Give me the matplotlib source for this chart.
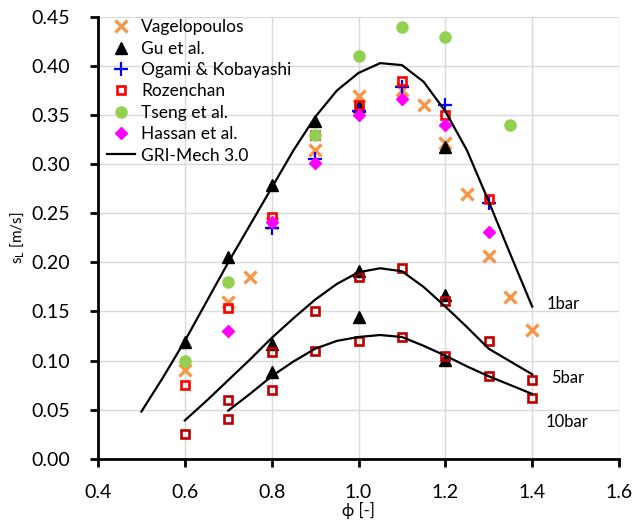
import matplotlib

matplotlib.use("Agg")
import matplotlib.pyplot as plt

plt.rcParams["font.family"] = ["Lato", "DejaVu Sans"]
plt.rcParams["mathtext.default"] = "regular"

# measured flame speeds at 1 bar
vagel_phi = [0.6, 0.7, 0.75, 0.8, 0.9, 1.0, 1.1, 1.15, 1.2, 1.25, 1.3, 1.35, 1.4]
vagel_sl = [0.09, 0.16, 0.185, 0.24, 0.315, 0.37, 0.376, 0.36, 0.322, 0.27, 0.206, 0.165, 0.131]

gu_phi = [0.6, 0.7, 0.8, 0.9, 1.0, 1.2]
gu_sl = [0.119, 0.205, 0.279, 0.344, 0.359, 0.318]
gu5_phi = [0.8, 1.0, 1.2]
gu5_sl = [0.117, 0.191, 0.167]
gu10_phi = [0.8, 1.0, 1.2]
gu10_sl = [0.088, 0.144, 0.101]

ogami_phi = [0.8, 0.9, 1.0, 1.1, 1.2, 1.3]
ogami_sl = [0.235, 0.305, 0.354, 0.379, 0.36, 0.261]

roz_phi = [0.6, 0.7, 0.8, 0.9, 1.0, 1.1, 1.2, 1.3]
roz_sl = [0.075, 0.154, 0.246, 0.33, 0.36, 0.385, 0.35, 0.265]
roz5_phi = [0.6, 0.7, 0.8, 0.9, 1.0, 1.1, 1.2, 1.3, 1.4]
roz5_sl = [0.025, 0.06, 0.109, 0.15, 0.185, 0.194, 0.161, 0.12, 0.08]
roz10_phi = [0.7, 0.8, 0.9, 1.0, 1.1, 1.2, 1.3, 1.4]
roz10_sl = [0.04, 0.07, 0.11, 0.12, 0.124, 0.105, 0.084, 0.062]

tseng_phi = [0.6, 0.7, 0.9, 1.0, 1.1, 1.2, 1.35]
tseng_sl = [0.10, 0.18, 0.33, 0.41, 0.44, 0.43, 0.34]

hassan_phi = [0.7, 0.8, 0.9, 1.0, 1.1, 1.2, 1.3]
hassan_sl = [0.13, 0.241, 0.301, 0.35, 0.366, 0.34, 0.231]

# GRI-Mech 3.0 predictions
gri1_phi = [0.5, 0.55, 0.6, 0.65, 0.7, 0.75, 0.8, 0.85, 0.9, 0.95, 1.0,
            1.05, 1.1, 1.15, 1.2, 1.25, 1.3, 1.35, 1.4]
gri1_sl = [0.048, 0.083, 0.12, 0.16, 0.2, 0.238, 0.276, 0.314, 0.348, 0.375, 0.393,
           0.403, 0.401, 0.384, 0.354, 0.314, 0.262, 0.208, 0.155]
gri5_phi = [0.6, 0.65, 0.7, 0.75, 0.8, 0.85, 0.9, 0.95, 1.0, 1.05,
            1.1, 1.15, 1.2, 1.25, 1.3, 1.35, 1.4]
gri5_sl = [0.039, 0.059, 0.08, 0.101, 0.123, 0.143, 0.162, 0.178, 0.19, 0.194,
           0.191, 0.175, 0.155, 0.134, 0.112, 0.099, 0.086]
gri10_phi = [0.7, 0.75, 0.8, 0.85, 0.9, 0.95, 1.0, 1.05, 1.1, 1.15,
             1.2, 1.25, 1.3, 1.35, 1.4]
gri10_sl = [0.049, 0.066, 0.084, 0.099, 0.112, 0.12, 0.124, 0.126, 0.124, 0.115,
            0.105, 0.094, 0.084, 0.075, 0.066]

pressure_labels = ["1bar", "5bar", "10bar"]
label_pos = [(1.433, 0.158), (1.444, 0.082), (1.431, 0.037)]

orange = "#F79646"
green = "#92D050"

fig = plt.figure(figsize=(6.38, 5.24), dpi=100)
ax = fig.add_axes([98 / 638, 65.3 / 524, 521 / 638, 441.7 / 524])

ax.plot(vagel_phi, vagel_sl, ls="none", marker="x", ms=8.5, mew=2.4,
        color=orange, label="Vagelopoulos")
ax.plot(gu_phi, gu_sl, ls="none", marker="^", ms=8.5, color="black", label="Gu et al.")
for phi, sl in ((gu5_phi, gu5_sl), (gu10_phi, gu10_sl)):
    ax.plot(phi, sl, ls="none", marker="^", ms=8.5, color="black")
ax.plot(ogami_phi, ogami_sl, ls="none", marker="+", ms=10, mew=1.6,
        color="#0000FF", label="Ogami & Kobayashi")
ax.plot(roz_phi, roz_sl, ls="none", marker="s", ms=5.6, mew=1.9, mfc="none",
        mec="#FF0000", label="Rozenchan")
for phi, sl in ((roz5_phi, roz5_sl), (roz10_phi, roz10_sl)):
    ax.plot(phi, sl, ls="none", marker="s", ms=5.6, mew=1.9, mfc="none", mec="#C00000")
ax.plot(tseng_phi, tseng_sl, ls="none", marker="o", ms=8, color=green,
        label="Tseng et al.")
ax.plot(hassan_phi, hassan_sl, ls="none", marker="D", ms=6.5, color="#FF00FF",
        label="Hassan et al.")
ax.plot(gri1_phi, gri1_sl, color="black", lw=1.6, label="GRI-Mech 3.0")
ax.plot(gri5_phi, gri5_sl, color="black", lw=1.6)
ax.plot(gri10_phi, gri10_sl, color="black", lw=1.6)

for text, (x, y) in zip(pressure_labels, label_pos):
    ax.text(x, y, text, fontsize=12, va="center", ha="left")

ax.set_xlim(0.4, 1.6)
ax.set_ylim(0.0, 0.45)
ax.set_xticks([0.4, 0.6, 0.8, 1.0, 1.2, 1.4, 1.6])
ax.set_xticklabels(["0.4", "0.6", "0.8", "1.0", "1.2", "1.4", "1.6"])
ax.set_yticks([i * 0.05 for i in range(10)])
ax.set_yticklabels([f"{i * 0.05:.2f}" for i in range(10)])
ax.grid(True, color="#D9D9D9", lw=1.0)
ax.set_axisbelow(True)
for side in ("top", "right"):
    ax.spines[side].set_visible(False)
for side in ("left", "bottom"):
    ax.spines[side].set_linewidth(2.0)
ax.tick_params(axis="both", direction="out", length=6, width=2, labelsize=14)
ax.tick_params(axis="x", pad=12)
ax.tick_params(axis="y", pad=14)

ax.set_xlabel("ϕ [-]", fontsize=12, labelpad=1)
ax.set_ylabel("s$_L$ [m/s]", fontsize=11, labelpad=4)

ax.legend(loc="upper left", bbox_to_anchor=(0.018, 0.995), frameon=False,
          fontsize=12.5, borderpad=0, borderaxespad=0, handlelength=1.6,
          handletextpad=0.35, labelspacing=0.31)

fig.savefig("out.png", dpi=100)
